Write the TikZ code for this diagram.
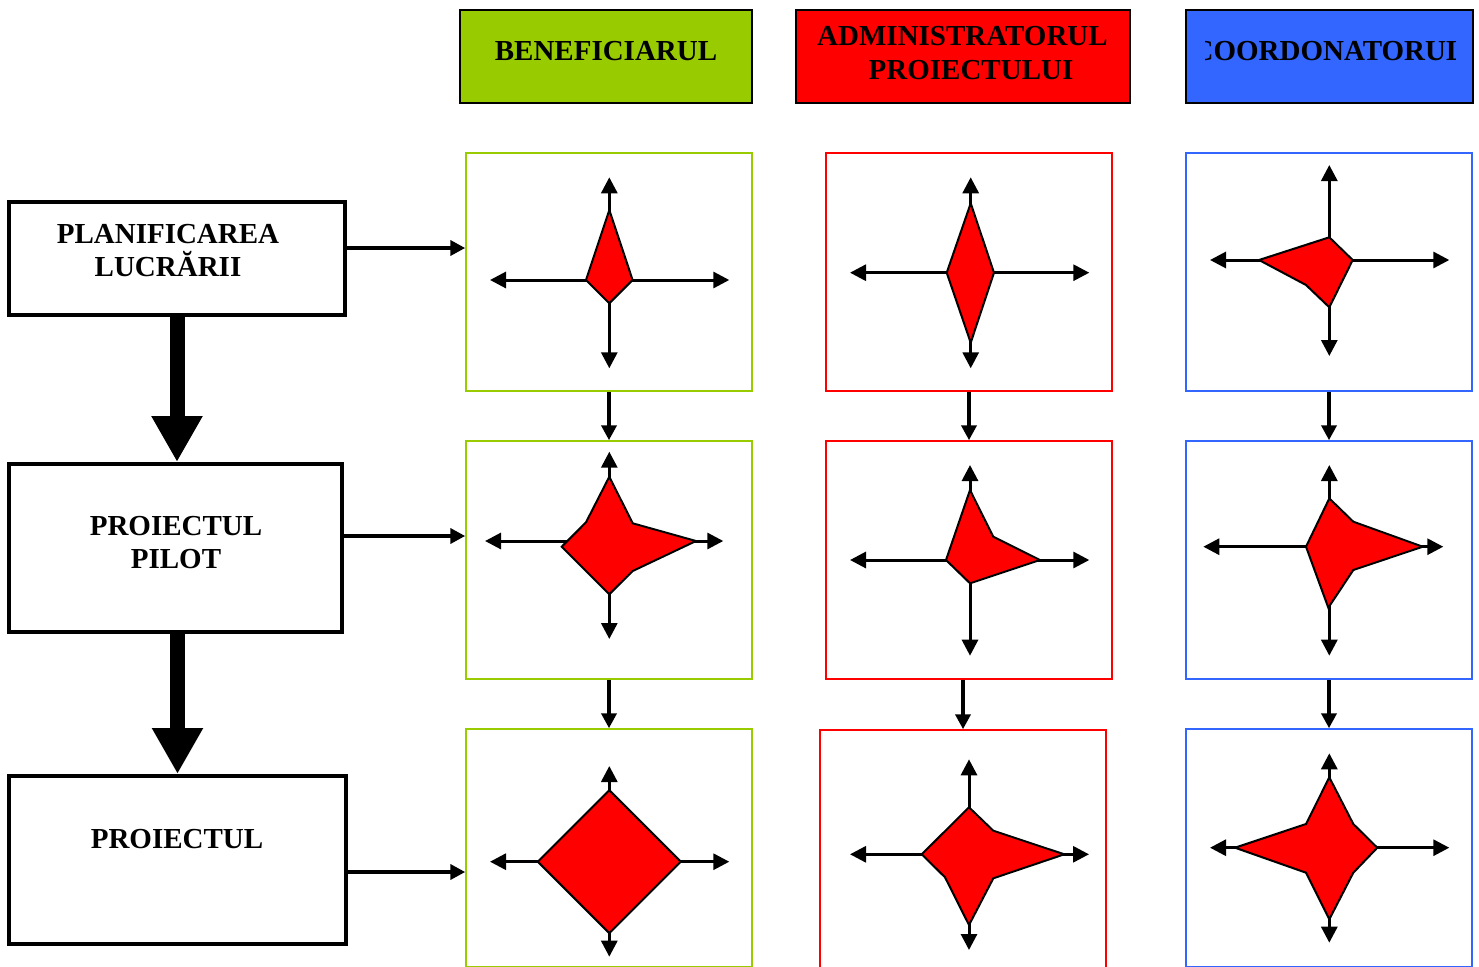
\documentclass[tikz,border=0pt]{standalone}
\usepackage{fontspec}
\setmainfont{Liberation Serif}
\usetikzlibrary{arrows.meta,calc}
\definecolor{hgreen}{HTML}{99CC00}
\definecolor{hred}{HTML}{FF0000}
\definecolor{hblue}{HTML}{3366FF}
\newcommand\radaxes[4]{%
  \draw[ax] (0,0) -- (0,-#1);
  \draw[ax] (0,0) -- (0,#2);
  \draw[ax] (0,0) -- (-#3,0);
  \draw[ax] (0,0) -- (#4,0);}
\begin{document}
\begin{tikzpicture}[x=1pt,y=-1pt,
  lbl/.style={font=\fontsize{29}{33}\selectfont\bfseries, inner sep=0pt, anchor=base},
  stage/.style={draw, line width=4pt, inner sep=0pt},
  head/.style={draw, line width=2pt, inner sep=0pt, minimum height=93pt},
  panel/.style={draw, line width=1.5pt, inner sep=0pt, minimum width=286pt, minimum height=238pt},
  harrow/.style={line width=4pt, -{Triangle[length=15pt,width=15pt]}},
  bigarrow/.style={line width=15pt, -{Triangle[length=46pt,width=48pt]}},
  ax/.style={line width=3pt, -{Triangle[length=16pt,width=16pt]}},
  poly/.style={draw, fill=hred, line width=2pt, line join=miter}
]
\clip (0,0) rectangle (1479,966);
\fill[white] (0,0) rectangle (1479,966);

% headers
\node[head, fill=hgreen, minimum width=292pt] (h1) at (606,56.5) {};
\node[head, fill=hred, minimum width=334pt] (h2) at (963,56.5) {};
\node[head, fill=hblue, minimum width=287pt] (h3) at (1329.5,56.5) {};
\node[lbl] (t1) at (606,60) {BENEFICIARUL};
\node[lbl] (t2a) at (962.5,46) {ADMINISTRATORUL};
\node[lbl] (t2b) at (971,79) {PROIECTULUI};
\begin{scope}
  \clip (1205,10) rectangle (1455,103);
  \node[lbl] (t3) at (1329,60) {COORDONATORUL};
\end{scope}

% stage boxes
\node[stage, minimum width=336pt, minimum height=113pt] (b1) at (177,258.5) {};
\node[stage, minimum width=333pt, minimum height=168pt] (b2) at (175.5,548) {};
\node[stage, minimum width=337pt, minimum height=168pt] (b3) at (177.5,860) {};
\node[lbl] (s1a) at (168,243) {PLANIFICAREA};
\node[lbl] (s1b) at (168,276) {LUCRĂRII};
\node[lbl] (s2a) at (176,535) {PROIECTUL};
\node[lbl] (s2b) at (176,568) {PILOT};
\node[lbl] (s3a) at (177,848) {PROIECTUL};

% panels
\node[panel, draw=hgreen] (c11) at (609,272) {};
\node[panel, draw=hgreen] (c12) at (609,560) {};
\node[panel, draw=hgreen] (c13) at (609,848) {};
\node[panel, draw=hred] (c21) at (969,272) {};
\node[panel, draw=hred] (c22) at (969,560) {};
\node[panel, draw=hred] (c23) at (963,849) {};
\node[panel, draw=hblue] (c31) at (1329,272) {};
\node[panel, draw=hblue] (c32) at (1329,560) {};
\node[panel, draw=hblue] (c33) at (1329,848) {};

% connectors
\draw[bigarrow] (b1.south) -- (b1.south |- b2.north);
\draw[bigarrow] (b3.north |- b2.south) -- (b3.north);
\draw[harrow] ([yshift=10.5pt]b1.east) -- ([yshift=10.5pt]b1.east -| c11.west);
\draw[harrow] ([yshift=12pt]b2.east) -- ([yshift=12pt]b2.east -| c12.west);
\draw[harrow] ([yshift=-12pt]b3.east) -- ([yshift=-12pt]b3.east -| c13.west);
\draw[harrow] (c11.south) -- (c12.north);
\draw[harrow] (c12.south) -- (c13.north);
\draw[harrow] (c21.south) -- (c22.north);
\draw[harrow] (c22.south -| c23.north) -- (c23.north);
\draw[harrow] (c31.south) -- (c32.north);
\draw[harrow] (c32.south) -- (c33.north);

% radar charts
\begin{scope}[shift={(609.3,280)}]
  \radaxes{102.7}{88.3}{119.3}{120}
  \draw[poly] (0,-70) -- (23.3,0) -- (0,23.3) -- (-23.3,0) -- cycle;
\end{scope}
\begin{scope}[shift={(970.7,272.7)}]
  \radaxes{95.4}{95.6}{120.7}{118.6}
  \draw[poly] (0,-69.4) -- (23.3,0) -- (0,70) -- (-24,0) -- cycle;
\end{scope}
\begin{scope}[shift={(1329.3,260)}]
  \radaxes{95}{96}{119.3}{120}
  \draw[poly] (0,-22.7) -- (23.4,0) -- (0,47.3) -- (-23.3,25) -- (-70.3,0) -- cycle;
\end{scope}
\begin{scope}[shift={(609.3,541)}]
  \radaxes{89.3}{98}{124.3}{114}
  \draw[poly] (0,-64.3) -- (23.4,-17.7) -- (86.7,0) -- (23.4,30) -- (0,53.3) -- (-47.6,5.7) -- (-23.3,-18.7) -- cycle;
\end{scope}
\begin{scope}[shift={(970,560)}]
  \radaxes{95}{95.7}{120}{119.3}
  \draw[poly] (0,-70) -- (23.3,-23.3) -- (70,0) -- (0,23.3) -- (-24,0) -- cycle;
\end{scope}
\begin{scope}[shift={(1329.3,546.7)}]
  \radaxes{81.7}{109}{126}{114}
  \draw[poly] (0,-48.3) -- (24,-25) -- (93.4,0) -- (24,23.3) -- (-1,61) -- (-23.3,0) -- cycle;
\end{scope}
\begin{scope}[shift={(609.3,861.7)}]
  \radaxes{95.7}{95}{119.3}{120}
  \draw[poly] (0,-71.5) -- (71.5,0) -- (0,71.5) -- (-71.5,0) -- cycle;
\end{scope}
\begin{scope}[shift={(969,854.3)}]
  \radaxes{95}{95.7}{119}{120}
  \draw[poly] (0,-47) -- (24.3,-23.6) -- (95.3,0) -- (24.3,24) -- (0,70.7) -- (-24,23) -- (-47.3,0) -- cycle;
\end{scope}
\begin{scope}[shift={(1329.3,847.7)}]
  \radaxes{94.4}{95}{119.3}{120}
  \draw[poly] (0,-70.4) -- (24,-23.7) -- (48,0) -- (24,25) -- (0,71.6) -- (-23.3,25) -- (-94.3,0) -- (-23.3,-23.7) -- cycle;
\end{scope}
\end{tikzpicture}
\end{document}
